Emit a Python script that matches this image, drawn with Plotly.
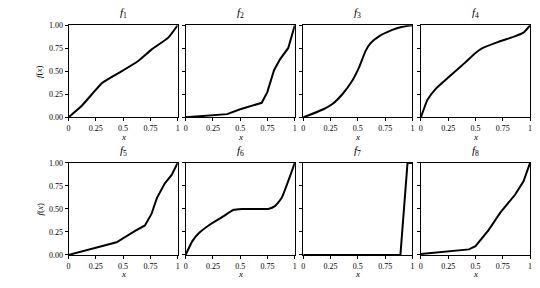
import plotly.graph_objects as go

titles = ["f1", "f2", "f3", "f4", "f5", "f6", "f7", "f8"]

f1_x = [0, 0.117, 0.209, 0.30, 0.393, 0.485, 0.638, 0.76, 0.914, 1]
f1_y = [0, 0.12, 0.243, 0.366, 0.437, 0.50, 0.613, 0.736, 0.866, 1]
f2_x = [0, 0.25, 0.38, 0.5, 0.6, 0.697, 0.748, 0.809, 0.864, 0.94, 1]
f2_y = [0, 0.02, 0.035, 0.088, 0.125, 0.158, 0.274, 0.51, 0.63, 0.754, 1]
f3_x = [0, 0.18, 0.27, 0.36, 0.45, 0.51, 0.57, 0.617, 0.69, 0.81, 0.90, 1]
f3_y = [0, 0.085, 0.148, 0.254, 0.40, 0.54, 0.72, 0.806, 0.877, 0.947, 0.982, 1]
f4_x = [0, 0.06, 0.136, 0.258, 0.41, 0.5, 0.56, 0.71, 0.86, 0.94, 1]
f4_y = [0, 0.19, 0.31, 0.44, 0.6, 0.70, 0.75, 0.82, 0.88, 0.92, 1]
f5_x = [0, 0.303, 0.44, 0.61, 0.70, 0.76, 0.81, 0.884, 0.945, 1]
f5_y = [0, 0.095, 0.137, 0.26, 0.32, 0.445, 0.62, 0.78, 0.87, 1]
f6_x = [0, 0.06, 0.12, 0.227, 0.333, 0.44, 0.515, 0.757, 0.818, 0.88, 1]
f6_y = [0, 0.147, 0.235, 0.333, 0.41, 0.49, 0.5, 0.5, 0.53, 0.62, 1]
f7_x = [0, 0.89, 0.955, 1]
f7_y = [0, 0, 1, 1]
f8_x = [0, 0.44, 0.5, 0.62, 0.727, 0.864, 0.94, 1]
f8_y = [0.01, 0.06, 0.095, 0.27, 0.46, 0.656, 0.80, 1]

series = [(f1_x, f1_y), (f2_x, f2_y), (f3_x, f3_y), (f4_x, f4_y),
          (f5_x, f5_y), (f6_x, f6_y), (f7_x, f7_y), (f8_x, f8_y)]
smooth = [True, False, True, True, False, True, False, False]

x_ticks = [0, 0.25, 0.5, 0.75, 1]
x_ticklabels = ["0", "0.25", "0.5", "0.75", "1"]
y_ticks = [0, 0.25, 0.5, 0.75, 1]
y_ticklabels = ["0.00", "0.25", "0.50", "0.75", "1.00"]

W, H = 540, 288
col_px = [(67, 177), (185, 295), (303.5, 413.5), (422, 532)]
row_px = [(22, 117), (164, 259)]
FONT = "Liberation Serif, Times New Roman, serif"

fig = go.Figure()
annotations = []
for i, (xs, ys) in enumerate(series):
    r, c = divmod(i, 4)
    n = i + 1
    xa = "x" if n == 1 else f"x{n}"
    ya = "y" if n == 1 else f"y{n}"
    line = dict(color="black", width=2)
    if smooth[i]:
        line.update(shape="spline", smoothing=0.4)
    fig.add_trace(go.Scatter(x=xs, y=ys, mode="lines", xaxis=xa, yaxis=ya,
                             line=line, showlegend=False))
    x0, x1 = col_px[c]
    y0, y1 = row_px[r]
    common = dict(showline=True, linecolor="black", linewidth=1, mirror=True,
                  ticks="outside", ticklen=3, tickwidth=1, tickcolor="black",
                  showgrid=False, zeroline=False,
                  tickfont=dict(family=FONT, size=8, color="black"))
    fig.layout[("xaxis" if n == 1 else f"xaxis{n}")] = dict(
        domain=[x0 / W, x1 / W], range=[0, 1], anchor=ya,
        tickvals=x_ticks, ticktext=x_ticklabels, **common)
    fig.layout[("yaxis" if n == 1 else f"yaxis{n}")] = dict(
        domain=[1 - y1 / H, 1 - y0 / H], range=[0, 1], anchor=xa,
        tickvals=y_ticks, ticktext=y_ticklabels, showticklabels=(c == 0),
        **common)
    annotations.append(dict(text=f"<i>f</i><sub>{n}</sub>", x=(x0 + x1) / 2 / W,
                            y=1 - (y0 - 3) / H, xref="paper", yref="paper",
                            xanchor="center", yanchor="bottom", showarrow=False,
                            font=dict(family=FONT, size=11, color="black")))
    annotations.append(dict(text="<i>x</i>", x=(x0 + x1) / 2 / W,
                            y=1 - (y1 + 20) / H, xref="paper", yref="paper",
                            xanchor="center", yanchor="middle", showarrow=False,
                            font=dict(family=FONT, size=9, color="black")))
    if c == 0:
        annotations.append(dict(text="<i>f</i>(<i>x</i>)", x=38 / W,
                                y=1 - (y0 + y1) / 2 / H, xref="paper", yref="paper",
                                xanchor="center", yanchor="middle", showarrow=False,
                                textangle=-90,
                                font=dict(family=FONT, size=9, color="black")))

fig.update_layout(width=W, height=H, margin=dict(l=0, r=0, t=0, b=0),
                  plot_bgcolor="white", paper_bgcolor="white",
                  annotations=annotations)
fig.write_html("out.html", config={"displayModeBar": False},
               post_script="document.body.style.margin='0';document.body.style.overflow='hidden';")
